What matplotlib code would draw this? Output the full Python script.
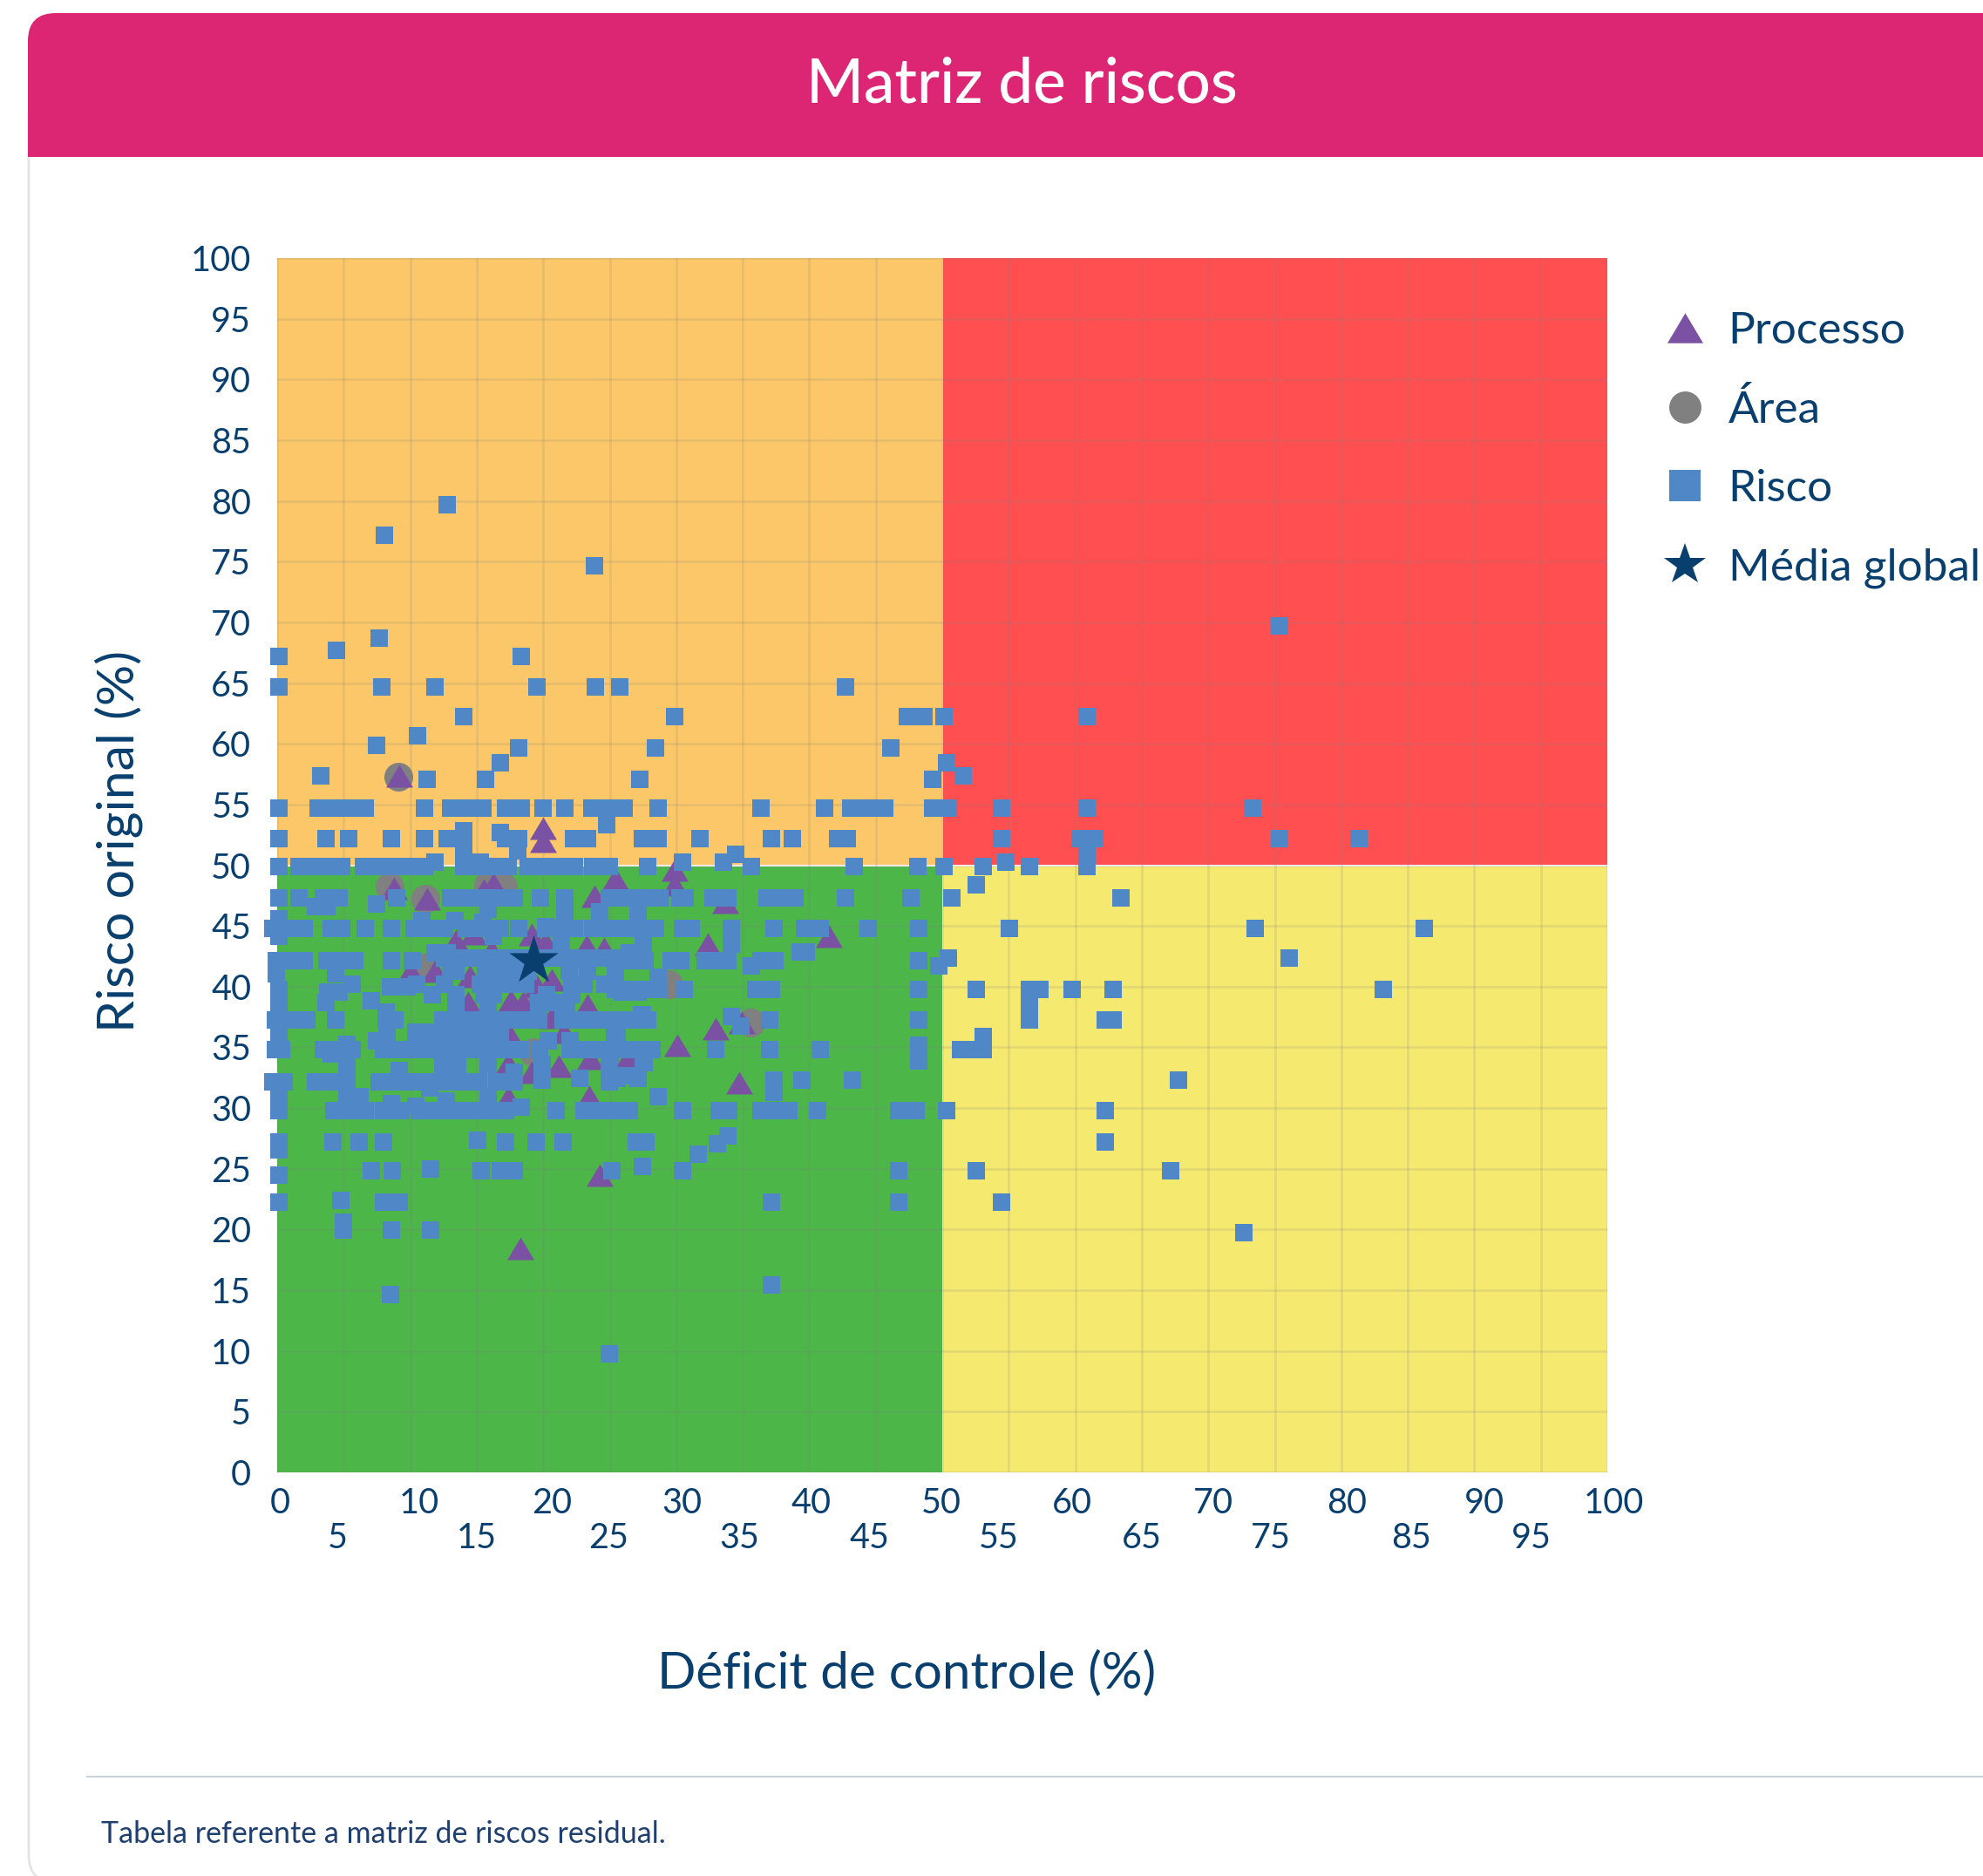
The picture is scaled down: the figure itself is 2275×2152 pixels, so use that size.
import matplotlib
matplotlib.use("Agg")
import matplotlib.pyplot as plt
from matplotlib.lines import Line2D
from matplotlib.patches import Rectangle, FancyBboxPatch
from matplotlib.transforms import Affine2D

plt.rcParams['font.family'] = ['Lato', 'DejaVu Sans']

W, H = 2275, 2152
NAVY = '#083F6E'

# risk squares, one row per y value: (y, [x, x, ...])
risco_linhas = [
    (80, [12.6]), (77.5, [7.9]), (75, [23.7]), (70, [75.2]), (69, [7.5]), (68, [4.3]),
    (67.5, [0, 18.2]),
    (65, [0, 7.7, 11.7, 19.4, 23.8, 25.6, 42.6]),
    (62.6, [13.9, 29.7, 47.2, 48.5, 50, 60.7]),
    (61, [10.4]), (60.2, [7.3]), (60, [18, 28.3, 46]), (58.8, [16.6, 50.2]),
    (57.7, [3.1, 51.4]), (57.4, [11.1, 15.5, 27.1, 49.1]),
    (55, [0, 2.9, 3.5, 4.1, 4.8, 5.5, 6.5, 10.9, 12.9, 14, 15.3, 17, 18.2, 19.85, 21.5, 23.5,
          24.7, 25.9, 28.5, 36.2, 41, 43, 44.3, 45.5, 49.1, 50.3, 54.3, 60.7, 73.2]),
    (53.7, [24.6]), (53.2, [13.9]), (53, [16.6]),
    (52.5, [0, 3.5, 5.2, 8.45, 10.9, 12.6, 13.9, 17, 18, 22.1, 23.2, 27.3, 28.5, 31.6, 37,
            38.6, 42, 42.7, 54.3, 60.2, 61.3, 75.2, 81.2]),
    (51.5, [13.9, 17.95]), (51.2, [34.3]), (51.1, [60.7]),
    (50.6, [11.7, 15.1, 30.3, 33.4, 54.65]),
    (50.25, [0, 1.5, 2.2, 2.8, 3.5, 4.1, 4.7, 6.35, 7.4, 8.5, 9.6, 10.9, 13.9, 15.05, 16.1,
             17.2, 18.7, 20, 21.2, 22.2, 23.6, 24.8, 27.7, 35.5, 43.2, 48, 50, 52.9, 56.4, 60.7]),
    (48.7, [52.4]),
    (47.65, [0, 1.5, 3.3, 4.5, 8.8, 12.9, 14.2, 15.5, 16.6, 17.7, 19.65, 21.5, 24.8, 26, 27.3,
             28.6, 30.1, 30.5, 32.6, 33.7, 36.7, 38, 38.8, 42.6, 47.5, 50.6, 63.3]),
    (47.1, [7.3]), (46.9, [2.7, 3.6]), (46.7, [15.7]), (46.5, [21.5, 24.1, 27]),
    (45.9, [0]), (45.8, [10.7, 13.2]), (45.6, [15.3]), (45.3, [20]),
    (45.1, [-0.5, 0.6, 1.85, 3.9, 4.7, 6.5, 8.45, 10.15, 11.3, 12.4, 14.1, 15.3, 16.6, 18, 20,
            21.2, 22.2, 23.6, 24.9, 26.2, 27.5, 28.3, 30.3, 31, 34, 37.2, 39.5, 40.7, 44.3,
            48.1, 54.9, 73.4, 86.1]),
    (44.5, [0, 16.1]), (44.1, [21.2]), (43.9, [27.4]), (43.8, [34]),
    (43.2, [39.2, 39.65]), (43.1, [11.7, 12.6, 26.3]),
    (42.7, [12.45, 13.6, 14.8, 16, 17.2, 18.3, 19.4, 20.5, 21.8, 23.1, 24.4, 25.7, 26.6, 27.4,
            50.3, 75.95]),
    (42.5, [-0.2, 0.85, 1.85, 3.6, 4.8, 5.7, 8.45, 10, 29.5, 30.2, 32, 33.2, 33.75, 36.2, 37.3,
            48.1, 26.5, 27.5]),
    (42.05, [35.5, 49.6]),
    (41.6, [12.9, 13.3, 15.5, 16.8, 18, 18.7, 21.8, 23.2, 25.3]),
    (41.4, [-0.2, 4.26]), (41.1, [28.5]),
    (40.5, [5.5, 10.35, 12.45, 15.1, 16, 16.8, 17.6, 18.5, 22, 22.9, 24.5, 25.2]),
    (40.3, [8.4, 9.6]), (40.1, [0, 25.3, 26.3, 27.3, 28.5, 30.45, 35.8, 37, 48.1, 52.4, 56.4,
                                57.2, 59.6, 62.7, 83]),
    (39.9, [3.65, 4.5, 25.8, 27]), (39.7, [11.5, 13.3, 15.4, 16.1, 20.1, 22]),
    (39.2, [6.95]), (39, [0, 3.5, 13.3, 15.7, 19.5, 20.7, 21.6]),
    (38.8, [56.4]), (38.2, [8.05]), (38, [27.3, 27.25]), (37.9, [34]),
    (37.6, [-0.25, 0.85, 2.1, 4.26, 8.05, 8.7, 12.3, 13.5, 14.8, 16.1, 17.3, 18.5, 19.5, 21.35,
            22.6, 23.8, 25.1, 26.4, 27.7, 36.9, 48.1, 56.4, 62.1, 62.7]),
    (37.1, [34.7]), (36.6, [10.3, 11.55, 12.9, 14.2, 15.5, 16.6]),
    (36.2, [0, 8.1, 25.4, 25.2, 52.95]), (35.9, [7.3, 8.1, 20.2, 21.9]),
    (35.6, [5.1]), (35.5, [48.1]),
    (35.15, [-0.25, 0.2, 3.3, 4.5, 5.5, 7.85, 9.05, 10.25, 11.55, 12.9, 14.2, 15.5, 16.8, 18.1,
             19.6, 21.9, 23.1, 24.4, 25.7, 26.8, 28, 26.2, 32.8, 36.9, 40.7, 51.2, 52.1, 52.95]),
    (34.8, [3.9, 24.9]), (34.2, [48.1]), (34.1, [27.4, 27.45]),
    (33.9, [5.1, 12.3, 12.9, 13.4, 15.7, 19.8, 24.8]), (33.4, [9.05]), (33.25, [17.66]),
    (33, [25.8, 26.4]), (32.8, [27, 25.4, 22.6]),
    (32.65, [19.8, 37.2, 39.3, 43.1, 67.6]),
    (32.5, [-0.5, 0.4, 2.7, 3.9, 5.1, 7.5, 8.7, 9.9, 11.1, 12.4, 13.7, 15, 16.35, 17.7, 24.8]),
    (32, [11.3]), (31.6, [37.2]), (31.25, [0, 5.1, 6.05, 15.7, 28.5]),
    (30.9, [12.55]), (30.7, [8.45]), (30.5, [10.25]), (30.4, [18.2]),
    (30.1, [0, 4.1, 5.2, 6.5, 7.85, 9.15, 10.5, 11.8, 13.1, 14.4, 15.7, 17, 20.8, 22.9, 24.2,
            25.5, 26.3, 30.3, 33.1, 33.8, 36.2, 37.3, 38.3, 40.5, 46.6, 47.9, 50.2, 62.1]),
    (28.05, [33.7]), (27.7, [14.9]),
    (27.55, [0, 4.06, 6.03, 7.86, 17, 19.3, 21.35, 26.85, 27.6, 62.1]),
    (27.4, [32.95]), (26.9, [0]), (26.5, [31.5]), (25.5, [27.3]), (25.3, [11.4]),
    (25.2, [6.9, 8.5, 15.2, 16.6, 17.65, 25, 30.3, 46.6, 52.4, 67]),
    (24.8, [0]), (22.75, [4.65]),
    (22.6, [0, 7.86, 9.05, 37, 46.6, 54.3]),
    (20.9, [4.85]), (20.3, [4.85, 8.45, 11.4]), (20.1, [72.5]),
    (15.8, [37]), (15, [8.4]), (10.1, [24.8]),
]

processo_x = [9.0, 19.85, 19.85, 8.65, 11.1, 15.4, 16.1, 25.3, 29.7, 29.7, 23.7, 33.5, 41.3, 32.2,
              13.3, 14.6, 16, 19, 20, 23.1, 24.4, 9.9, 11.7, 14.3, 19.4, 20.5, 17.4, 18.3, 14.2,
              23.2, 20.5, 21.4, 17.4, 29.95, 17.2, 19, 21, 23.4, 26.2, 17.2, 23.3, 34.75, 32.8,
              34.6, 24.1, 18.1]
processo_y = [57.7, 53.4, 52.3, 48.4, 47.6, 48.3, 48.8, 49.2, 49.9, 48.7, 47.8, 47.3, 44.5, 43.8,
              44.1, 44.7, 43.3, 44.6, 44, 43.7, 43.5, 41.6, 41.6, 41.2, 40.4, 40.9, 39.2, 39, 39,
              38.8, 37.8, 36.6, 36.2, 35.5, 34, 33.3, 33.8, 34.4, 34.4, 31.2, 31.3, 37.4, 36.9,
              32.4, 24.8, 18.8]

area_x = [8.93, 8.3, 11, 15.7, 16.8, 10.9, 29.3, 19.1, 35.45, 19.4]
area_y = [57.6, 48.6, 47.6, 48.7, 48.6, 41.9, 40.5, 34.9, 37.4, 39.2]

media_x = [19.1]
media_y = [42.5]

ticks = list(range(0, 101, 5))
# x tick labels are staggered on two rows in the original
xtick_px = [321, 387, 481, 547, 633, 698, 782, 848, 931, 997, 1080, 1146, 1230, 1310, 1392, 1458,
            1545, 1619, 1703, 1757, 1851]

fig = plt.figure(figsize=(W / 100, H / 100), dpi=100, facecolor='white')

# card behind the chart, in pixel coordinates
bg = fig.add_axes([0, 0, 1, 1], zorder=0)
bg.set_xlim(0, W)
bg.set_ylim(H, 0)
bg.axis('off')
bg.add_patch(FancyBboxPatch((33, 100), W + 100, 2060, boxstyle='round,pad=0,rounding_size=32',
                            fc='white', ec='#E4E4E6', lw=2))
bg.add_patch(FancyBboxPatch((32, 15), W + 100, 165, boxstyle='round,pad=0,rounding_size=32',
                            fc='#DC2573', ec='none'))
bg.add_patch(Rectangle((32, 60), W, 120, fc='#DC2573', ec='none'))
bg.text(1172, 97, 'Matriz de riscos', color='white', fontsize=51, ha='center', va='center',
        fontweight='medium')
bg.plot([100, W], [2037.5, 2037.5], color='#C8D2DC', lw=1.5)
bg.text(116, 2104, 'Tabela referente a matriz de riscos residual.', color='#1F3F6E', fontsize=24.5,
        ha='left', va='center')

for i, (val, px) in enumerate(zip(ticks, xtick_px)):
    row = 1725 if i % 2 == 0 else 1764
    bg.text(px, row, str(val), color=NAVY, fontsize=28.5, ha='center', va='center')
bg.text(1040, 1920, 'Déficit de controle (%)', color=NAVY, fontsize=42, ha='center', va='center')
bg.text(136, 965, 'Risco original (%)', color=NAVY, fontsize=42.5, rotation=90, ha='center', va='center')

ax = fig.add_axes([318 / W, 1 - 1689 / H, 1526 / W, 1393 / H], zorder=1)
ax.patch.set_alpha(0)
ax.set_xlim(0, 100)
ax.set_ylim(0, 100)
for s in ax.spines.values():
    s.set_visible(False)

ax.add_patch(Rectangle((0, 50), 50, 50, fc='#FCC768', ec='none', zorder=0))
ax.add_patch(Rectangle((50, 50), 50, 50, fc='#FF4F50', ec='none', zorder=0))
ax.add_patch(Rectangle((0, 0), 50, 50, fc='#4CB649', ec='none', zorder=0))
ax.add_patch(Rectangle((50, 0), 50, 50, fc='#F6E96F', ec='none', zorder=0))
ax.plot([0, 100], [50, 50], color='white', lw=1.5, zorder=0.2)
ax.plot([50, 50], [0, 100], color='white', lw=0.7, alpha=0.7, zorder=0.2)

ax.set_xticks(ticks)
ax.set_yticks(ticks)
ax.set_xticklabels([])
ax.tick_params(axis='x', length=0)
ax.tick_params(axis='y', length=0, pad=21.5, labelsize=28.5, labelcolor=NAVY)
ax.set_axisbelow(True)
ax.grid(color='#808080', alpha=0.17, lw=1.9)

risco_x = [x for y, xs in risco_linhas for x in xs]
risco_y = [y for y, xs in risco_linhas for x in xs]

# the original draws its markers a little right of and below the true position
shift = ax.transData + Affine2D().translate(2.3, -4.6)
tri = [(-0.5, -0.42), (0.5, -0.42), (0, 0.42), (-0.5, -0.42)]

ax.scatter(area_x, area_y, s=566, c='#808080', marker='o', linewidths=0, transform=shift, clip_on=False, zorder=3)
ax.scatter(processo_x, processo_y, s=497, c='#7B52A3', marker=tri, linewidths=0, transform=shift, clip_on=False, zorder=4)
ax.scatter(risco_x, risco_y, s=205, c='#5087C7', marker='s', linewidths=0, transform=shift, clip_on=False, zorder=5,
           antialiased=False, snap=True)
ax.scatter(media_x, media_y, s=1804, c=NAVY, marker='*', linewidths=0, transform=shift, clip_on=False, zorder=6)

handles = [
    Line2D([], [], ls='', marker=tri, ms=29.5, mfc='#7B52A3', mew=0),
    Line2D([], [], ls='', marker='o', ms=26.6, mfc='#808080', mew=0),
    Line2D([], [], ls='', marker='s', ms=26, mfc='#5087C7', mew=0),
    Line2D([], [], ls='', marker='*', ms=36.4, mfc=NAVY, mew=0),
]
fig.legend(handles, ['Processo', 'Área', 'Risco', 'Média global'], loc='upper left',
           bbox_to_anchor=(1905 / W, 1 - 357 / H), frameon=False, fontsize=37, labelcolor=NAVY,
           labelspacing=0.86, handletextpad=0.41, handlelength=1.1, borderpad=0, borderaxespad=0)

fig.savefig('out.png', dpi=100)
